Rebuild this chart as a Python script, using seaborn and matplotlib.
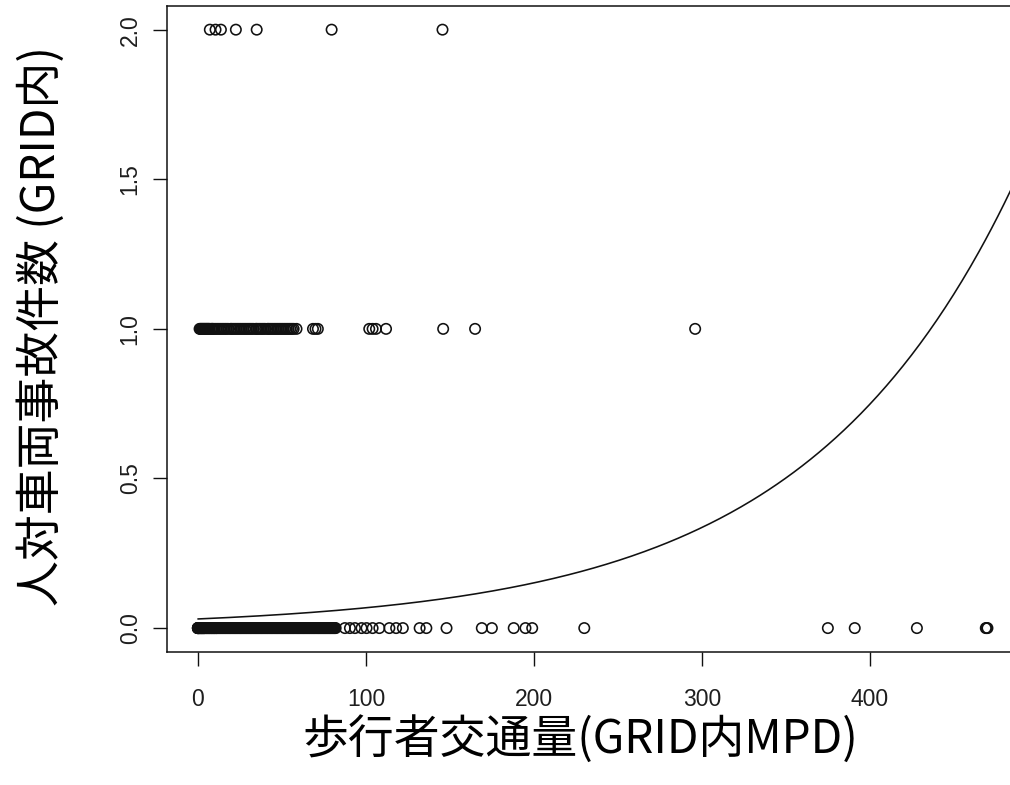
import numpy as np
import pandas as pd
import matplotlib
matplotlib.use("Agg")
import matplotlib.pyplot as plt
import seaborn as sns

# ---- data ----
x_zero = [0, 0, 0, 0, 0, 0.3, 0.5, 0.8, 1, 1, 1.3, 1.5, 1.8, 2, 2, 2.3, 2.5,
          2.8, 3, 3, 3.3, 3.5, 3.8, 4, 4, 4.5, 5, 5, 5.5, 6, 6, 6.5, 7, 7,
          7.5, 8, 8, 8.5, 9, 9, 9.5, 10, 10, 10.5, 11, 11, 11.5, 12, 12.5,
          13, 13.5, 14, 14.5, 15, 15.5, 16, 16.5, 17, 17.5, 18, 18.5, 19,
          19.5, 20, 20.5, 21, 21.5, 22, 22.5, 23, 23.5, 24, 24.5, 25, 25.5,
          26, 26.5, 27, 27.5, 28, 28.5, 29, 29.5, 30, 30.5, 31, 31.5, 32,
          32.5, 33, 33.5, 34, 34.5, 35, 35.5, 36, 36.5, 37, 37.5, 38, 38.5,
          39, 39.5, 40, 40.5, 41, 41.5, 42, 42.5, 43, 43.5, 44, 44.5, 45,
          45.5, 46, 46.5, 47, 47.5, 48, 48.5, 49, 49.5, 50, 50.5, 51, 51.5,
          52, 52.5, 53, 53.5, 54, 54.5, 55, 55.5, 56, 56.5, 57, 57.5, 58,
          58.5, 59, 59.5, 60, 60.5, 61, 61.5, 62, 62.5, 63, 63.5, 64, 64.5,
          65, 65.5, 66, 66.5, 67, 67.5, 68, 68.5, 69, 69.5, 70, 70.5, 71,
          71.5, 72, 72.5, 73, 73.5, 74, 74.5, 75, 75.5, 76, 76.5, 77, 77.5,
          78, 78.5, 79, 79.5, 80, 80.5, 81, 81.5, 82,
          87.5, 90.5, 93.5, 97.4, 100.4, 104, 108, 114, 118, 122, 132, 136,
          148, 169, 175, 188, 195, 199, 230, 375, 391, 428, 469, 469.5, 470]
x_one = [1, 1.5, 2, 2.5, 3, 3.5, 4, 4.5, 5, 5.5, 6, 6.5, 7, 8, 8.5, 9, 10,
         11, 12, 13, 14, 15, 16, 17, 18, 19.5, 20, 21, 22, 23, 24, 25, 26,
         27, 28, 29, 30, 31, 32, 33, 34.5, 35, 36, 37, 38, 39, 40, 41.5, 42,
         43, 44, 45, 46, 47, 48, 49, 50, 51, 52, 53, 54, 55, 56, 57, 58.7,
         68.5, 70, 71.4, 102, 104, 106, 112, 146, 165, 296]
x_two = [7.1, 10.5, 13.7, 22.6, 35, 79.6, 145.6]

curve_intercept = -3.49
curve_slope = 0.0080

x_ticks = [0, 100, 200, 300, 400]
y_ticks = [0.0, 0.5, 1.0, 1.5, 2.0]
y_ticklabels = ["0.0", "0.5", "1.0", "1.5", "2.0"]
x_label = "歩行者交通量(GRID内MPD)"
y_label = "人対車両事故件数 (GRID内)"

# ---- style ----
sns.set_theme(style="white")
plt.rcParams["font.family"] = ["Liberation Sans", "DejaVu Sans"]
cjk = ["Noto Sans CJK JP", "DejaVu Sans"]
ink = "#111111"

df = pd.DataFrame({
    "x": x_zero + x_one + x_two,
    "y": [0] * len(x_zero) + [1] * len(x_one) + [2] * len(x_two),
})

fig = plt.figure(figsize=(10.1, 7.85), dpi=100)
ax = fig.add_axes([0.165, 0.1694, 0.8353, 0.8233])

sns.scatterplot(data=df, x="x", y="y", ax=ax, marker="o", s=56,
                facecolors="none", edgecolor=ink, linewidth=1.15,
                legend=False, zorder=3)

cx = np.linspace(0, 500, 400)
cy = np.exp(curve_intercept + curve_slope * cx)
sns.lineplot(x=cx, y=cy, ax=ax, color=ink, linewidth=1.15,
             estimator=None, sort=False, zorder=2)

ax.set_xlim(-18.6, 483.6)
ax.set_ylim(-0.08, 2.08)

ax.set_xticks(x_ticks)
ax.set_xticklabels([str(t) for t in x_ticks])
ax.set_yticks(y_ticks)
ax.set_yticklabels(y_ticklabels, rotation=90, va="center")

ax.tick_params(axis="both", direction="out", length=10, width=1.0,
               color=ink, labelsize=16.5, labelcolor="#1e1e1e")
ax.tick_params(axis="x", pad=16)
ax.tick_params(axis="y", pad=8)
ax.tick_params(left=True, bottom=True)

for name, sp in ax.spines.items():
    sp.set_visible(name != "right")
    sp.set_color(ink)
    sp.set_linewidth(1.1)

ax.set_xlabel(x_label, fontsize=33, family=cjk, color="black")
ax.set_ylabel(y_label, fontsize=33, family=cjk, color="black")
ax.xaxis.set_label_coords(0.49, -0.136)
ax.xaxis.label.set_va("center")
ax.yaxis.set_label_coords(-0.148, 0.505)
ax.yaxis.label.set_va("center")

fig.savefig("out.png", dpi=100, facecolor="white")
